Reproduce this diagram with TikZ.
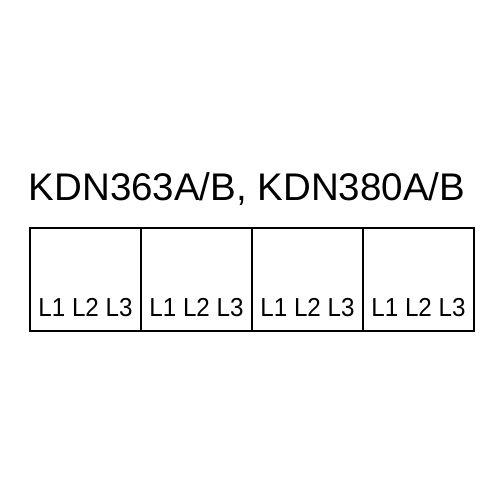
\documentclass[tikz,border=0pt]{standalone}
\usepackage{fontspec}
\setmainfont{Liberation Sans}
\usepackage{tikz}

\begin{document}
\begin{tikzpicture}[x = 1pt, y = -1pt]
		\tikzset{cell/.style = {draw, line width = 1.6pt, minimum width = 111pt, minimum height = 103pt, inner sep = 0pt},
			phases/.style = {anchor = base, inner sep = 0pt, font = \fontsize{26}{28}\selectfont}}
		\useasboundingbox (0,0) rectangle (500,500);
		\node[anchor = base, inner sep = 0pt, font = \fontsize{38.5}{40}\selectfont] (T) at (247,200) {KDN363A/B, KDN380A/B};
		\foreach \i/\x in {1/85.5, 2/196.5, 3/307.5, 4/418.5}{
			\node[cell] (C\i) at (\x,279.5) {};
			\node[phases] (P\i) at (\x,316) {\scalebox{0.93}[1]{L1 L2 L3}};
		}
	\end{tikzpicture}
\end{document}
